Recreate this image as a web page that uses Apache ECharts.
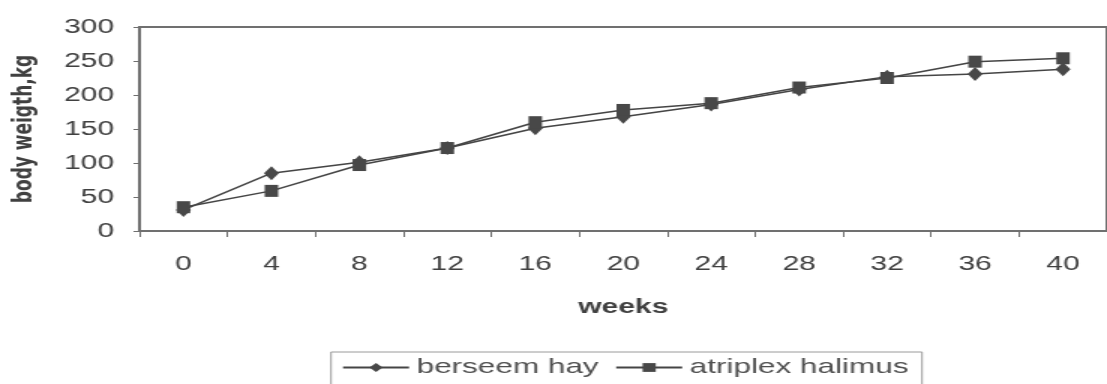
<!DOCTYPE html>
<html><head><meta charset="utf-8">
<script src="https://cdn.jsdelivr.net/npm/echarts@6/dist/echarts.min.js"></script>
<style>
html,body{margin:0;padding:0;background:#fff;overflow:hidden;width:1107px;height:384px}
#c{width:738px;height:384px;transform:scaleX(1.5);transform-origin:0 0}
</style>
</head><body><div id="c"></div>
<script>
const weeks = ['0','4','8','12','16','20','24','28','32','36','40'];
const berseemHay = [31, 85, 101, 122, 151, 168, 186, 208, 227, 231, 238];
const atriplexHalimus = [35, 59, 97, 122, 160, 178, 188, 211, 225, 249, 254];
const yTicks = {min: 0, max: 300, interval: 50};

const chart = echarts.init(document.getElementById('c'), null, {renderer: 'canvas'});
const font = 'Liberation Sans, Arial, sans-serif';
const axisCol = '#707070';
const txtCol = '#404040';
chart.setOption({
  animation: false,
  backgroundColor: '#fff',
  grid: {left: 90.7, top: 27, width: 654.1, height: 204, show: true, borderColor: axisCol, borderWidth: 2, containLabel: false},
  legend: {
    top: 352, left: 220.7,
    itemGap: 10.7, itemWidth: 44, itemHeight: 11,
    padding: [5, 9, 20, 7],
    borderColor: '#9a9a9a', borderWidth: 1,
    textStyle: {fontFamily: font, fontSize: 21, color: '#505050'},
    data: ['berseem hay', 'atriplex halimus']
  },
  xAxis: {
    type: 'category', data: weeks, boundaryGap: true,
    name: 'weeks', nameLocation: 'middle', nameGap: 66,
    nameTextStyle: {fontFamily: font, fontSize: 20, fontWeight: 'bold', color: txtCol},
    axisLine: {lineStyle: {color: axisCol, width: 2}},
    axisTick: {show: true, length: 6, lineStyle: {color: axisCol, width: 1}},
    axisLabel: {fontFamily: font, fontSize: 20, color: txtCol, margin: 23},
    splitLine: {show: false}
  },
  yAxis: {
    type: 'value', min: yTicks.min, max: yTicks.max, interval: yTicks.interval,
    name: 'body weigth,kg', nameLocation: 'middle', nameGap: 68,
    nameTextStyle: {fontFamily: 'DejaVu Sans, sans-serif', fontSize: 17, fontWeight: 'bold', color: txtCol},
    axisLine: {show: true, lineStyle: {color: axisCol, width: 2}},
    axisTick: {show: true, length: 4, lineStyle: {color: axisCol, width: 1}},
    axisLabel: {fontFamily: font, fontSize: 20, color: txtCol, margin: 17},
    splitLine: {show: false}
  },
  series: [
    {name: 'berseem hay', type: 'line', data: berseemHay, symbol: 'diamond', symbolSize: [10, 14],
     lineStyle: {color: '#454545', width: 1.5}, itemStyle: {color: '#484848'}},
    {name: 'atriplex halimus', type: 'line', data: atriplexHalimus, symbol: 'rect', symbolSize: [9, 12],
     lineStyle: {color: '#454545', width: 1.5}, itemStyle: {color: '#484848'}}
  ]
});
</script></body></html>
